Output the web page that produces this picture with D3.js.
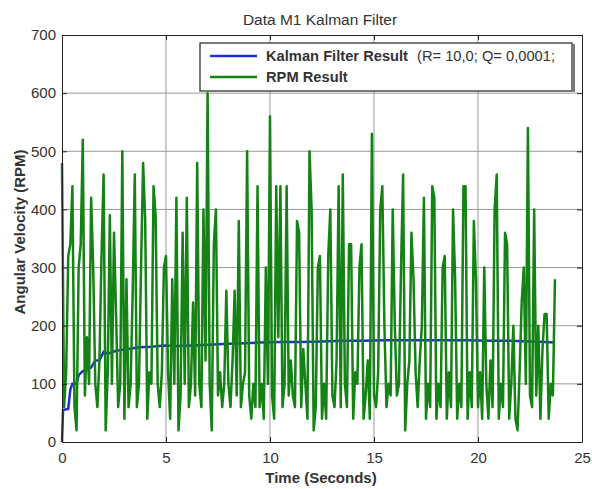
<!DOCTYPE html>
<html>
<head>
<meta charset="utf-8">
<script src="https://cdn.jsdelivr.net/npm/d3@7"></script>
<style>
  body { margin: 0; background: #fff; }
  svg { font-family: "Liberation Sans", Arial, sans-serif; }
</style>
</head>
<body>
<div id="chart"></div>
<script>
// RPM samples, one every 0.1 s starting at t = 0
const rpmStep = 0.1;
const rpmValues = [
  480, 60, 120, 320, 340, 440, 60, 20, 300, 340,
  520, 80, 180, 100, 420, 300, 100, 60, 140, 320,
  460, 20, 120, 390, 100, 360, 220, 60, 100, 500,
  40, 280, 60, 100, 260, 460, 60, 100, 300, 480,
  380, 40, 120, 100, 440, 390, 100, 60, 120, 300,
  320, 120, 40, 280, 100, 420, 20, 80, 360, 100,
  420, 60, 100, 240, 80, 480, 100, 60, 400, 140,
  600, 100, 20, 340, 400, 80, 120, 60, 100, 260,
  100, 60, 140, 260, 80, 380, 60, 100, 120, 500,
  80, 40, 100, 60, 440, 60, 100, 40, 300, 100,
  560, 80, 40, 440, 180, 440, 60, 100, 440, 80,
  140, 80, 60, 380, 360, 60, 160, 100, 40, 500,
  400, 20, 60, 300, 320, 40, 100, 40, 320, 400,
  80, 60, 140, 440, 60, 460, 100, 60, 340, 340,
  40, 120, 100, 300, 340, 40, 80, 140, 40, 530,
  80, 60, 120, 400, 440, 200, 60, 100, 80, 400,
  200, 80, 100, 300, 460, 20, 100, 140, 360, 280,
  120, 60, 140, 200, 420, 40, 100, 60, 440, 420,
  40, 100, 60, 300, 320, 40, 120, 60, 400, 280,
  40, 100, 60, 440, 440, 40, 120, 60, 380, 280,
  60, 120, 40, 300, 100, 40, 140, 60, 400, 460,
  40, 100, 60, 360, 340, 40, 100, 200, 40, 20,
  120, 240, 300, 100, 540, 80, 60, 400, 80, 200,
  40, 160, 220, 220, 40, 100, 80, 280
];

// Kalman filter output, read at these times
const kalmanTime = [0, 0.05, 0.3, 0.4, 0.5, 0.7, 0.8, 1.0, 1.2, 1.4, 1.6, 1.8, 2.0, 2.2, 2.6, 2.8, 3.2, 3.7, 4.3, 4.9, 5.5, 6.2, 6.8, 7.5, 8.0, 8.8, 9.5, 10.5, 11.5, 12.5, 13.5, 14.5, 15.5, 16.5, 17.5, 18.5, 19.5, 20.5, 21.5, 22.5, 23.2, 23.7];
const kalmanValues = [0, 55, 57, 90, 100, 100, 115, 122, 125, 128, 140, 140, 155, 152, 157, 158, 160, 163, 164, 166, 165, 166, 167, 168, 169, 170, 171, 172, 172, 173, 174, 174, 175, 175, 175, 175, 175, 174, 174, 173, 172, 171];

const xTicks = [0, 5, 10, 15, 20, 25];
const yTicks = [0, 100, 200, 300, 400, 500, 600, 700];

const legendLabels = ["Kalman Filter Result", "RPM Result"];
const legendNote = "(R= 10,0; Q= 0,0001;";
const colors = { kalman: "#1f2fd6", rpm: "#148214" };

const width = 592, height = 489;
const margin = { top: 35, right: 10, bottom: 47, left: 62 };

const svg = d3.select("#chart").append("svg")
  .attr("width", width)
  .attr("height", height);

const x = d3.scaleLinear().domain([0, 25]).range([margin.left, width - margin.right]);
const y = d3.scaleLinear().domain([0, 700]).range([height - margin.bottom, margin.top]);

const textColor = "#333";

// grid
svg.append("g")
  .selectAll("line")
  .data(xTicks.slice(1, -1))
  .join("line")
  .attr("x1", d => x(d)).attr("x2", d => x(d))
  .attr("y1", y(0)).attr("y2", y(700))
  .attr("stroke", "#999")
  .attr("stroke-width", 1);

svg.append("g")
  .selectAll("line")
  .data(yTicks.slice(1, -1))
  .join("line")
  .attr("x1", x(0)).attr("x2", x(25))
  .attr("y1", d => y(d)).attr("y2", d => y(d))
  .attr("stroke", "#999")
  .attr("stroke-width", 1);

// lines
const kalmanData = kalmanTime.map((t, i) => [t, kalmanValues[i]]);
const rpmData = rpmValues.map((v, i) => [i * rpmStep, v]);

const line = d3.line().x(d => x(d[0])).y(d => y(d[1]));

svg.append("path")
  .datum(kalmanData)
  .attr("fill", "none")
  .attr("stroke", colors.kalman)
  .attr("stroke-width", 2.5)
  .attr("d", line);

svg.append("path")
  .datum(rpmData)
  .attr("fill", "none")
  .attr("stroke", colors.rpm)
  .attr("stroke-width", 2.5)
  .attr("stroke-linejoin", "round")
  .attr("d", line);

// axes, ticks pointing inward on all four sides
const tick = 5;
svg.append("g")
  .attr("transform", `translate(0,${y(0)})`)
  .call(d3.axisBottom(x).tickValues(xTicks).tickSizeInner(-tick).tickSizeOuter(0).tickPadding(10));
svg.append("g")
  .attr("transform", `translate(${x(0)},0)`)
  .call(d3.axisLeft(y).tickValues(yTicks).tickSizeInner(-tick).tickSizeOuter(0).tickPadding(6));
svg.append("g")
  .attr("transform", `translate(0,${y(700)})`)
  .call(d3.axisTop(x).tickValues(xTicks).tickSizeInner(-tick).tickSizeOuter(0).tickFormat(""));
svg.append("g")
  .attr("transform", `translate(${x(25)},0)`)
  .call(d3.axisRight(y).tickValues(yTicks).tickSizeInner(-tick).tickSizeOuter(0).tickFormat(""));

svg.selectAll(".domain").attr("stroke", "#222");
svg.selectAll(".tick line").attr("stroke", "#222");
svg.selectAll(".tick text")
  .attr("fill", textColor)
  .style("font-size", "15px");

// legend
const lg = svg.append("g");
lg.append("rect")
  .attr("x", 200).attr("y", 43)
  .attr("width", 372).attr("height", 48)
  .attr("fill", "#fff")
  .attr("stroke", "#222")
  .attr("stroke-width", 1.2);
lg.append("line")
  .attr("x1", 574).attr("x2", 574).attr("y1", 44).attr("y2", 92)
  .attr("stroke", "#222").attr("stroke-width", 1.2);

const rows = [colors.kalman, colors.rpm];
rows.forEach((c, i) => {
  const yy = 56 + i * 21;
  lg.append("line")
    .attr("x1", 210).attr("x2", 257)
    .attr("y1", yy).attr("y2", yy)
    .attr("stroke", c).attr("stroke-width", 2.5);
  const t = lg.append("text")
    .attr("x", 266).attr("y", yy + 5)
    .attr("fill", textColor)
    .style("font-size", "14.7px");
  t.append("tspan").style("font-weight", "bold").text(legendLabels[i]);
  if (i === 0) t.append("tspan").attr("dx", 9).text(legendNote);
});

// title and axis labels
svg.append("text")
  .attr("x", 320).attr("y", 25)
  .attr("text-anchor", "middle")
  .attr("fill", textColor)
  .style("font-size", "15.5px")
  .text("Data M1 Kalman Filter");

svg.append("text")
  .attr("x", 321).attr("y", 483)
  .attr("text-anchor", "middle")
  .attr("fill", textColor)
  .style("font-size", "15px")
  .style("font-weight", "bold")
  .text("Time (Seconds)");

svg.append("text")
  .attr("transform", `translate(25,232) rotate(-90)`)
  .attr("text-anchor", "middle")
  .attr("fill", textColor)
  .style("font-size", "15px")
  .style("font-weight", "bold")
  .text("Angular Velocity (RPM)");
</script>
</body>
</html>
